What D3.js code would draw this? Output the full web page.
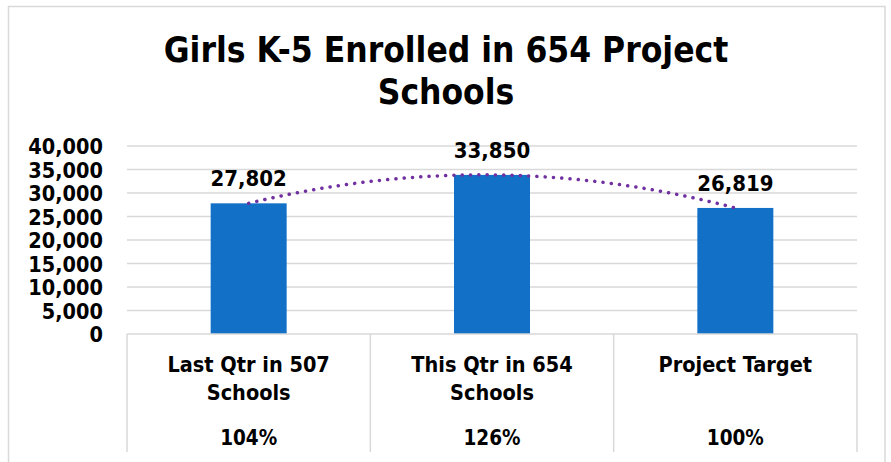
<!DOCTYPE html>
<html><head><meta charset="utf-8">
<script src="https://cdn.jsdelivr.net/npm/d3@7"></script>
<style>
html,body{margin:0;padding:0;background:#fff;}
text{font-family:"DejaVu Sans Condensed","DejaVu Sans",sans-serif;font-weight:bold;font-stretch:condensed;fill:#000;}
</style></head>
<body>
<svg id="chart" width="891" height="462"></svg>
<script>
const titleLines = ["Girls K-5 Enrolled in 654 Project", "Schools"];
const categories = ["Last Qtr in 507 Schools", "This Qtr in 654 Schools", "Project Target"];
const categoryLines = [["Last Qtr in 507", "Schools"], ["This Qtr in 654", "Schools"], ["Project Target"]];
const values = [27802, 33850, 26819];
const percents = ["104%", "126%", "100%"];
const yTicks = [0, 5000, 10000, 15000, 20000, 25000, 30000, 35000, 40000];

(function () {
const svg = d3.select("#chart");
const pL = 127, pR = 857, pT = 146, pB = 334;

// outer frame
svg.append("rect").attr("x", 8.5).attr("y", 6.5).attr("width", 876.5).attr("height", 470)
  .attr("fill", "#fff").attr("stroke", "#D9D9D9").attr("stroke-width", 1.5);

// title
svg.append("g").selectAll("text").data(titleLines).join("text")
  .attr("x", 446).attr("y", (d, i) => 62 + i * 42)
  .attr("text-anchor", "middle").style("font-size", "35px").text(d => d);

const x = d3.scaleBand().domain(categories).range([pL, pR]).paddingInner(0).paddingOuter(0);
const y = d3.scaleLinear().domain([0, 40000]).range([pB, pT]);

// gridlines
svg.append("g").selectAll("line").data(yTicks.filter(t => t > 0)).join("line")
  .attr("x1", pL).attr("x2", pR).attr("y1", d => y(d)).attr("y2", d => y(d))
  .attr("stroke", "#D9D9D9").attr("stroke-width", 1.5);

// y axis labels
const yAxis = d3.axisLeft(y).tickValues(yTicks).tickSize(0).tickPadding(0)
  .tickFormat(d3.format(","));
const gy = svg.append("g").attr("transform", `translate(${103},0)`).call(yAxis);
gy.select(".domain").remove();
gy.attr("font-family", null).attr("font-size", null);
gy.selectAll("text").style("font-size", "21.5px").attr("dy", "0.36em").attr("fill", "#000");

// bars
const barW = 76;
svg.append("g").selectAll("rect").data(values).join("rect")
  .attr("x", (d, i) => x(categories[i]) + x.bandwidth() / 2 - barW / 2)
  .attr("width", barW)
  .attr("y", d => y(d)).attr("height", d => y(0) - y(d))
  .attr("fill", "#1270C6");

// table / category axis
const tbl = svg.append("g");
tbl.append("line").attr("x1", pL).attr("x2", pR).attr("y1", pB).attr("y2", pB)
  .attr("stroke", "#D9D9D9").attr("stroke-width", 1.5);
const edges = categories.map(c => x(c)).concat([pR]);
tbl.selectAll("line.v").data(edges).join("line").attr("class", "v")
  .attr("x1", d => d).attr("x2", d => d).attr("y1", pB).attr("y2", 452)
  .attr("stroke", "#D9D9D9").attr("stroke-width", 1.5);

categories.forEach((c, i) => {
  const cx = x(c) + x.bandwidth() / 2;
  categoryLines[i].forEach((ln, j) => {
    tbl.append("text").attr("x", cx).attr("y", 372 + j * 28)
      .attr("text-anchor", "middle").style("font-size", "21.5px").text(ln);
  });
  tbl.append("text").attr("x", cx).attr("y", 445)
    .attr("text-anchor", "middle").style("font-size", "20.5px").text(percents[i]);
});

// polynomial trendline (order 2) through the three points
const [y1, y2, y3] = values;
const a = (y1 - 2 * y2 + y3) / 2;
const b = (y2 - y1) - a * 3;
const c0 = y1 - a - b;
const pts = d3.range(0, 101).map(k => {
  const t = 1 + 2 * k / 100;
  const v = a * t * t + b * t + c0;
  const px = x(categories[0]) + x.bandwidth() / 2 + (t - 1) * x.bandwidth();
  return [px, y(v)];
});
svg.append("path").attr("d", d3.line()(pts)).attr("fill", "none")
  .attr("stroke", "#7030A0").attr("stroke-width", 3.5)
  .attr("stroke-linecap", "round").attr("stroke-dasharray", "0.1 8.2");

// data labels
svg.append("g").selectAll("text").data(values).join("text")
  .attr("x", (d, i) => x(categories[i]) + x.bandwidth() / 2)
  .attr("y", d => y(d) - 17)
  .attr("text-anchor", "middle").style("font-size", "22px")
  .text(d => d3.format(",")(d));
})();
</script>
</body></html>
